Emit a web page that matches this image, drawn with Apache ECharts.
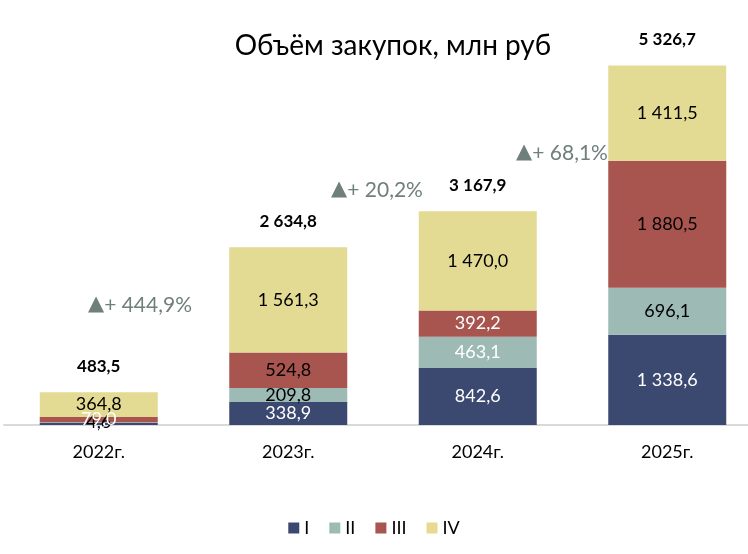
<!DOCTYPE html>
<html>
<head>
<meta charset="utf-8">
<script src="https://cdn.jsdelivr.net/npm/echarts@6/dist/echarts.min.js"></script>
<style>
  html, body { margin: 0; padding: 0; background: #fff; }
  #content { width: 748px; height: 554px; }
</style>
</head>
<body>
<div id="content"></div>
<script>
// данные
var years = ["2022г.", "2023г.", "2024г.", "2025г."];
var seriesNames = ["I", "II", "III", "IV"];
var q1 = [35.1, 338.9, 842.6, 1338.6];
var q2 = [4.6, 209.8, 463.1, 696.1];
var q3 = [79.0, 524.8, 392.2, 1880.5];
var q4 = [364.8, 1561.3, 1470.0, 1411.5];
var totals = [483.5, 2634.8, 3167.9, 5326.7];
var growth = ["+ 444,9%", "+ 20,2%", "+ 68,1%"];

// цвета подписей внутри столбцов (по сериям)
var labelColors = [
    [null, "#fff", "#fff", "#fff"],
    ["#000", "#000", "#fff", "#000"],
    ["#fff", "#000", "#fff", "#000"],
    ["#000", "#000", "#000", "#000"]
];
var colors = ["#3b4870", "#9dbab5", "#a8544f", "#e3da93"];
var fontName = "Lato";

var myChart = echarts.init(document.getElementById("content"));

// формат числа: 1 338,6
function fmt(v) {
    var s = v.toFixed(1).split(".");
    var intPart = s[0].replace(/\B(?=(\d{3})+(?!\d))/g, " ");
    return intPart + "," + s[1];
}

function makeSeries(name, values, idx) {
    return {
        name: name,
        type: "bar",
        stack: "total",
        barWidth: 118,
        itemStyle: { color: colors[idx] },
        data: values.map(function(v, i) {
            var c = labelColors[idx][i];
            return {
                value: v,
                label: c ? { show: true, color: c } : { show: false }
            };
        }),
        label: {
            show: true,
            position: "inside",
            fontFamily: fontName,
            fontSize: 18,
            formatter: function(p) { return fmt(p.value); }
        }
    };
}

var series = [
    makeSeries("I", q1, 0),
    makeSeries("II", q2, 1),
    makeSeries("III", q3, 2),
    makeSeries("IV", q4, 3),
    {
        // подписи итогов над столбцами
        name: "total",
        type: "bar",
        stack: "total",
        barWidth: 118,
        data: totals.map(function() { return 0; }),
        label: {
            show: true,
            position: "top",
            distance: 17,
            color: "#000",
            fontFamily: fontName,
            fontSize: 17,
            fontWeight: "bold",
            formatter: function(p) { return fmt(totals[p.dataIndex]); }
        }
    }
];

// подписи прироста
var growthPos = [[140, 305], [377, 190], [562, 153]];
var graphics = growth.map(function(g, i) {
    return {
        type: "text",
        x: growthPos[i][0],
        y: growthPos[i][1],
        style: {
            text: "{t|▲}{v|" + g + "}",
            fill: "#6f7f7c",
            textAlign: "center",
            textVerticalAlign: "middle",
            rich: {
                t: { fontSize: 21, fontFamily: "DejaVu Sans", fill: "#6f7f7c" },
                v: { fontSize: 21, fontFamily: fontName, fill: "#6f7f7c" }
            }
        }
    };
});

myChart.setOption({
    textStyle: { fontFamily: fontName },
    title: {
        text: "Объём закупок, млн руб",
        left: 388,
        top: 27,
        textAlign: "center",
        textStyle: { fontFamily: fontName, fontSize: 28, fontWeight: "normal", color: "#000" }
    },
    legend: {
        data: seriesNames,
        bottom: 12,
        left: "center",
        itemWidth: 11,
        itemHeight: 11,
        itemGap: 20,
        icon: "rect",
        textStyle: { fontFamily: fontName, fontSize: 18, color: "#000" }
    },
    grid: { left: 4, width: 758, top: 20, height: 405, outerBoundsMode: "none", containLabel: false },
    xAxis: {
        type: "category",
        data: years,
        axisLine: { lineStyle: { color: "#d9d9d9", width: 2 } },
        axisTick: { show: false },
        axisLabel: { color: "#000", fontSize: 18, margin: 18, fontFamily: fontName }
    },
    yAxis: {
        type: "value",
        min: 0,
        max: 6000,
        show: false,
        splitLine: { show: false }
    },
    graphic: graphics,
    series: series
});
</script>
</body>
</html>
